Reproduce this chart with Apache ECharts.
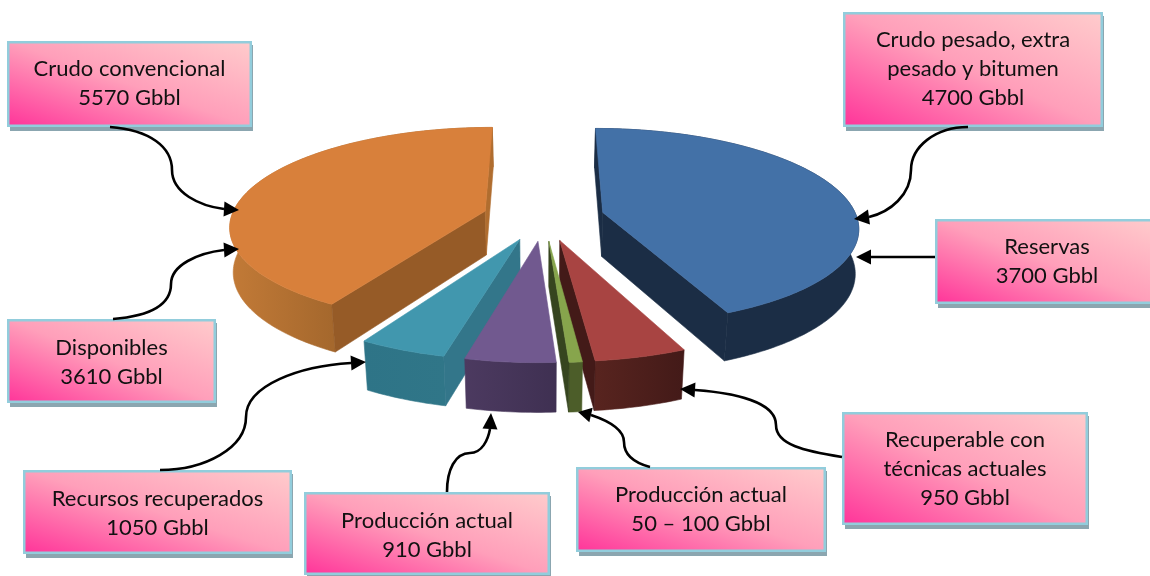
<!DOCTYPE html>
<html>
<head>
<meta charset="utf-8">
<style>html,body{margin:0;padding:0;background:#fff}#c{width:1150px;height:576px}</style>
<script src="https://cdn.jsdelivr.net/npm/echarts@6/dist/echarts.min.js"></script>
</head>
<body>
<div id="c"></div>
<script>
// ---- data ----
const sliceNames  = ['Reservas', 'Recuperable con técnicas actuales', 'Producción actual 50-100', 'Producción actual 910', 'Recursos recuperados', 'Disponibles'];
const sliceShares = [43.4, 4.9, 0.7, 4.8, 4.7, 41.5];   // % of the pie as drawn in the picture

const calloutTitles = [
  ['Crudo convencional'],
  ['Crudo pesado, extra', 'pesado y bitumen'],
  ['Reservas'],
  ['Disponibles'],
  ['Recursos recuperados'],
  ['Producción actual'],
  ['Producción actual'],
  ['Recuperable con', 'técnicas actuales']
];
const calloutAmounts = ['5570 Gbbl', '4700 Gbbl', '3700 Gbbl', '3610 Gbbl', '1050 Gbbl', '910 Gbbl', '50 – 100 Gbbl', '950 Gbbl'];

// ---- layout and styles ----
const PIE = {cx: 543.5, cy: 217.2, A: 254, B: 97, p: 0.14, explode: 0.24, depth: 44.2, depthSlope: 4.5, shrink: 0.019, maxShift: 3.5};
const SLICE_STYLE = [
  {top: '#4371a7', arc: ['#1b2d45', '#1b2d45'], start: '#1b2d45', end: '#1b2d45', order: 0},
  {top: '#a84442', arc: ['#58241f', '#431a18'], start: '#431a18', end: '#431a18', order: 3},
  {top: '#87a54c', arc: ['#4c5d29', '#4c5d29'], start: '#4c5d29', end: '#36451f', order: 4},
  {top: '#71598f', arc: ['#4c3a60', '#3f3052'], start: '#3f3052', end: '#3f3052', order: 5},
  {top: '#4197ae', arc: ['#2e7487', '#307688'], start: '#33768a', end: '#33768a', order: 2},
  {top: '#d8803b', arc: ['#c27a37', '#a5682d'], start: '#965b27', end: '#b06d2f', order: 1}
];
const BOXES = [
  [7, 41, 252, 127], [843, 12, 1103, 127], [935, 219, 1156, 304], [7, 319, 216, 403],
  [23, 470, 292, 554], [304, 492, 550, 575], [576, 467, 826, 552], [842, 412, 1088, 525]
];
const TEXT_NUDGE = [0, 0, 0, 1.5, 2, 2, 0, 1];
const CONNECTORS = [
  {curve: [[110,127],[150,130],[172,147],[172,170],[172,193],[200,206],[224,209]], tip: [239,210]},
  {curve: [[113,319],[150,316],[171,305],[171,284],[171,265],[198,253],[224,250]], tip: [239,249]},
  {curve: [[968,127],[935,127],[911,147],[911,170],[911,195],[890,212],[869,217]], tip: [854,219]},
  {curve: [[935,257],[871,257]], tip: [856,257]},
  {curve: [[160,470],[205,470],[246,448],[246,417],[246,385],[300,366],[351,363]], tip: [366,362]},
  {curve: [[447,492],[447,470],[455,453],[470,453],[482,453],[488,440],[490,429]], tip: [491,413]},
  {curve: [[650,467],[635,463],[624,455],[624,442],[624,428],[606,420],[591,415]], tip: [578,412]},
  {curve: [[842,457],[805,451],[776,445],[776,425],[776,402],[735,393],[695,390]], tip: [680,389]}
];
const FONT = 'Lato, "Open Sans", sans-serif';
const FONT_SIZE = 22, LINE_H = 29;

// ---- perspective projection of the pie plane ----
function topPoint(X, Y) {
  const u = 1 / (1 - PIE.p * Y);
  return [PIE.cx + PIE.A * X * u, PIE.cy + PIE.B * Y * u];
}
function bottomPoint(X, Y) {
  const u = 1 / (1 - PIE.p * Y);
  const dx = PIE.A * X * u;
  const shift = Math.sign(dx) * Math.min(Math.abs(dx) * PIE.shrink, PIE.maxShift);
  return [PIE.cx + dx - shift, PIE.cy + PIE.B * Y * u + PIE.depth + PIE.depthSlope * Y];
}
const total = sliceShares.reduce((a, b) => a + b, 0);

function wallVisible(a, r, m) {
  const e = [r[0] - a[0], r[1] - a[1]];
  const s = e[0] * (m[1] - a[1]) - e[1] * (m[0] - a[0]);
  return (e[0] > 0) !== (s > 0);
}

function renderSlice(params, api) {
  const i = params.dataIndex, st = SLICE_STYLE[i];
  let before = 0;
  for (let k = 0; k < i; k++) before += sliceShares[k];
  const a0 = before / total * 2 * Math.PI;
  const sweep = api.value(0) / total * 2 * Math.PI;
  const mid = a0 + sweep / 2;
  const ox = PIE.explode * Math.sin(mid), oy = -PIE.explode * Math.cos(mid);
  const n = Math.max(3, Math.ceil(sweep / (Math.PI / 180)));
  const rimT = [], rimB = [];
  let xMin = Infinity, xMax = -Infinity;
  for (let k = 0; k <= n; k++) {
    const t = a0 + sweep * k / n;
    const X = ox + Math.sin(t), Y = oy - Math.cos(t);
    const pt = topPoint(X, Y);
    rimT.push(pt);
    rimB.push(bottomPoint(X, Y));
    if (Y > 0.2) { xMin = Math.min(xMin, pt[0]); xMax = Math.max(xMax, pt[0]); }
  }
  const apexT = topPoint(ox, oy), apexB = bottomPoint(ox, oy);
  const inner = topPoint(ox + 0.5 * Math.sin(mid), oy - 0.5 * Math.cos(mid));
  const base = st.order * 10;
  const poly = (points, fill, z) => ({type: 'polygon', z2: base + z, shape: {points},
    style: {fill, stroke: fill, lineWidth: 0.6}});
  const children = [];
  const arcFill = new echarts.graphic.LinearGradient(xMin, 0, Math.max(xMax, xMin + 1), 0,
    [{offset: 0, color: st.arc[0]}, {offset: 1, color: st.arc[1]}], true);
  children.push(poly(rimT.concat(rimB.slice().reverse()), arcFill, 1));
  const first = rimT[0], last = rimT[n];
  if (wallVisible(apexT, first, inner)) children.push(poly([apexT, first, rimB[0], apexB], st.start, 2));
  if (wallVisible(apexT, last, inner)) children.push(poly([apexT, last, rimB[n], apexB], st.end, 2));
  children.push(poly([apexT].concat(rimT), st.top, 3));
  return {type: 'group', children};
}

// ---- callouts ----
function boxGradient(w, h) {
  const d = h * h + w * w;
  return new echarts.graphic.LinearGradient(0, 1, 2 * h * h / d, 1 - 2 * w * w / d, [
    {offset: 0, color: '#ff3399'}, {offset: 0.5, color: '#ff9fba'}, {offset: 1, color: '#ffcccc'}
  ]);
}
const elements = [];
CONNECTORS.forEach(c => {
  const pts = c.curve;
  if (pts.length === 2) {
    elements.push({type: 'line', z: 25, shape: {x1: pts[0][0], y1: pts[0][1], x2: pts[1][0], y2: pts[1][1]},
      style: {stroke: '#000', lineWidth: 2.6}});
  } else {
    for (let k = 0; k + 3 < pts.length; k += 3) {
      elements.push({type: 'bezierCurve', z: 25,
        shape: {x1: pts[k][0], y1: pts[k][1], cpx1: pts[k+1][0], cpy1: pts[k+1][1],
                cpx2: pts[k+2][0], cpy2: pts[k+2][1], x2: pts[k+3][0], y2: pts[k+3][1]},
        style: {stroke: '#000', lineWidth: 2.6, fill: 'transparent'}});
    }
  }
  const b = pts[pts.length - 1], t = c.tip;
  const dx = t[0] - b[0], dy = t[1] - b[1], len = Math.hypot(dx, dy) || 1;
  const hw = 7.5, nx = -dy / len * hw, ny = dx / len * hw;
  elements.push({type: 'polygon', z: 26, shape: {points: [t, [b[0] + nx, b[1] + ny], [b[0] - nx, b[1] - ny]]},
    style: {fill: '#000'}});
});
BOXES.forEach((b, i) => {
  const w = b[2] - b[0], h = b[3] - b[1];
  elements.push({type: 'rect', z: 20, shape: {x: b[0] + 3, y: b[1] + 4, width: w - 2, height: h}, style: {fill: '#8ba6b0'}});
  elements.push({type: 'rect', z: 21, shape: {x: b[0] + 1.25, y: b[1] + 1.25, width: w - 2.5, height: h - 2.5},
    style: {fill: boxGradient(w, h), stroke: '#92cddc', lineWidth: 2.5}});
  const lines = calloutTitles[i].concat([calloutAmounts[i]]);
  const textCx = i === 2 ? 1047 : (b[0] + b[2]) / 2;
  const y0 = (b[1] + b[3]) / 2 - 0.5 + TEXT_NUDGE[i] - (lines.length - 1) * LINE_H / 2;
  lines.forEach((s, j) => elements.push({type: 'text', z: 22,
    style: {x: textCx, y: y0 + j * LINE_H, text: s, fill: '#111', font: FONT_SIZE + 'px ' + FONT,
            textAlign: 'center', textVerticalAlign: 'middle'}}));
});

const chart = echarts.init(document.getElementById('c'), null, {renderer: 'canvas'});
chart.setOption({
  animation: false,
  backgroundColor: '#fff',
  graphic: {elements},
  series: [{
    type: 'custom',
    coordinateSystem: 'none',
    silent: true,
    clip: false,
    renderItem: renderSlice,
    data: sliceNames.map((name, i) => ({name, value: [sliceShares[i]]}))
  }]
});
</script>
</body>
</html>
